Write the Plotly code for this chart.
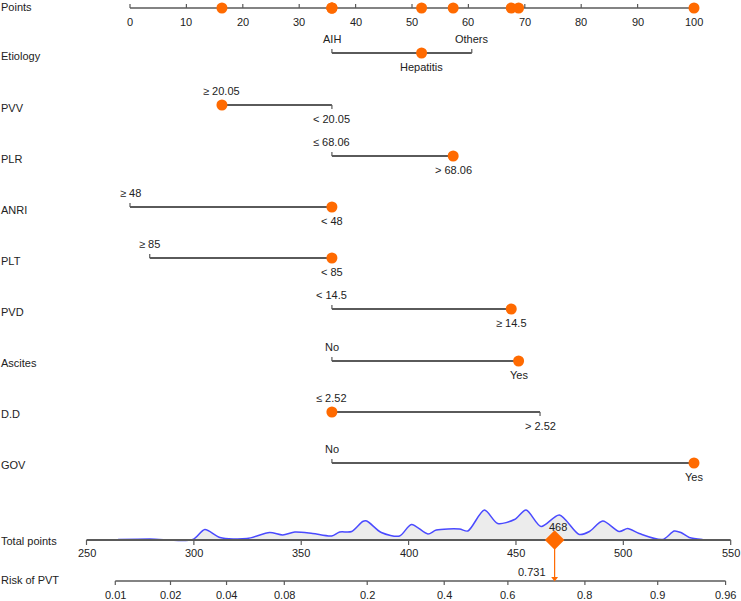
import math
import plotly.graph_objects as go

# ---------------- data ----------------
points_ticks = [0, 10, 20, 30, 40, 50, 60, 70, 80, 90, 100]
total_ticks = [250, 300, 350, 400, 450, 500, 550]
risk_ticks = [0.01, 0.02, 0.04, 0.08, 0.2, 0.4, 0.6, 0.8, 0.91, 0.96]
risk_tick_labels = ["0.01", "0.02", "0.04", "0.08", "0.2", "0.4", "0.6", "0.8", "0.9", "0.96"]

variables = ["Etiology", "PVV", "PLR", "ANRI", "PLT", "PVD", "Ascites", "D.D", "GOV"]
levels = [
    ["AIH", "Hepatitis", "Others"],
    ["≥ 20.05", "< 20.05"],
    ["≤ 68.06", "> 68.06"],
    ["≥ 48", "< 48"],
    ["≥ 85", "< 85"],
    ["< 14.5", "≥ 14.5"],
    ["No", "Yes"],
    ["≤ 2.52", "> 2.52"],
    ["No", "Yes"],
]
level_points = [
    [35.8, 51.7, 60.6],
    [16.3, 35.8],
    [35.8, 57.3],
    [0.0, 35.8],
    [3.5, 35.8],
    [35.8, 67.6],
    [35.8, 68.9],
    [35.8, 72.7],
    [35.8, 100.0],
]
selected_level = [1, 0, 1, 1, 1, 1, 1, 0, 1]

total_points_value = 468
risk_value = 0.731
lp_at_total = 1.0006     # linear predictor at total points value
lp_slope = 0.02735       # per total point

density_x = [264.7, 279.5, 299.5, 305.1, 312.1, 324.7, 335.3, 341.4, 347.0, 355.3,
             364.2, 367.9, 373.5, 378.6, 380.5, 387.3, 395.8, 401.3, 409.0, 412.9,
             423.7, 427.6, 435.3, 441.5, 449.3, 454.7, 461.7, 470.2, 479.5, 484.2,
             490.4, 498.1, 502.0, 507.4, 518.3, 523.7, 526.8, 530.7, 536.9]
density_y = [0.0, 0.5, 0.0, 10.0, 2.0, 1.0, 7.0, 4.5, 7.5, 6.0,
             3.5, 7.5, 8.0, 18.0, 18.5, 7.0, 3.5, 15.0, 5.5, 9.5,
             10.5, 8.5, 29.5, 16.0, 20.0, 29.5, 13.0, 24.5, 5.0, 8.0,
             18.5, 8.0, 11.0, 6.0, 0.0, 8.5, 7.0, 2.0, 0.0]

# ---------------- layout constants (pixels) ----------------
W, H = 741, 601
FONT = "Liberation Sans"
TXT = "#222222"
AXC = "#5a5a5a"
ORANGE = "#FF6A00"

points_y = 8
row_y = [53, 105, 156, 207, 258, 309, 361, 412, 463]
total_y = 540
risk_y = 581
side = [
    ["above", "below", "above"],
    ["above", "below"], ["above", "below"], ["above", "below"], ["above", "below"],
    ["above", "below"], ["above", "below"], ["above", "below"], ["above", "below"],
]

fig = go.Figure()
ann = []


def seg_trace(xs, ys, axis, color=AXC, width=1.5):
    fig.add_trace(go.Scatter(x=xs, y=ys, mode="lines", xaxis=axis, yaxis="y",
                             line=dict(color=color, width=width),
                             hoverinfo="skip", showlegend=False))


def label(text, x, y, xref, xanchor="center", size=11):
    ann.append(dict(text=text, x=x, y=y, xref=xref, yref="y", showarrow=False,
                    xanchor=xanchor, yanchor="middle",
                    font=dict(family=FONT, size=size, color=TXT)))


# Points axis
seg_trace([points_ticks[0], points_ticks[-1]], [points_y, points_y], "x")
xs, ys = [], []
for t in points_ticks:
    xs += [t, t, None]
    ys += [points_y, points_y - 4, None]
    label(str(t), t, points_y + 14, "x")
seg_trace(xs, ys, "x", width=1.2)

# variable rows
for i, var in enumerate(variables):
    y = row_y[i]
    pts = level_points[i]
    seg_trace([min(pts), max(pts)], [y, y], "x", width=1.8)
    txs, tys = [], []
    for j, lev in enumerate(levels[i]):
        if side[i][j] == "above":
            txs += [pts[j], pts[j], None]
            tys += [y, y - 4, None]
            label(lev, pts[j], y - 14, "x")
        else:
            txs += [pts[j], pts[j], None]
            tys += [y, y + 4, None]
            label(lev, pts[j], y + 14, "x")
    seg_trace(txs, tys, "x", width=1.2)

# row labels
row_labels = ["Points"] + variables + ["Total points", "Risk of PVT"]
row_label_y = [points_y - 1] + [y + 3 for y in row_y[:3]] + [y + 3 for y in row_y[3:6]] + \
              [y + 2 for y in row_y[6:]] + [total_y + 1, risk_y - 1]
for t, y in zip(row_labels, row_label_y):
    ann.append(dict(text=t, x=0, y=y, xref="paper", yref="y", showarrow=False,
                    xanchor="left", yanchor="middle", borderpad=0,
                    font=dict(family=FONT, size=11, color=TXT)))

# selected dots on rows and points axis
sel_x = [level_points[i][selected_level[i]] for i in range(len(variables))]
fig.add_trace(go.Scatter(x=sel_x, y=row_y, mode="markers", xaxis="x", yaxis="y",
                         marker=dict(color=ORANGE, size=11, line=dict(width=0)),
                         hoverinfo="skip", showlegend=False))
fig.add_trace(go.Scatter(x=sel_x, y=[points_y] * len(sel_x), mode="markers", xaxis="x", yaxis="y",
                         marker=dict(color=ORANGE, size=11, line=dict(width=0)),
                         hoverinfo="skip", showlegend=False))

# density
fig.add_trace(go.Scatter(x=density_x, y=[total_y] * len(density_x), mode="lines",
                         xaxis="x2", yaxis="y", line=dict(width=0, color="rgba(0,0,0,0)"),
                         hoverinfo="skip", showlegend=False))
fig.add_trace(go.Scatter(x=density_x, y=[total_y - 0.5 - d for d in density_y], mode="lines",
                         xaxis="x2", yaxis="y", line=dict(color="#4a4aff", width=1.5, shape="spline",
                                                          smoothing=0.8),
                         fill="tonexty", fillcolor="#ececec",
                         hoverinfo="skip", showlegend=False))

# Total points axis
seg_trace([total_ticks[0], total_ticks[-1]], [total_y, total_y], "x2", width=1.8)
xs, ys = [], []
for t in total_ticks:
    xs += [t, t, None]
    ys += [total_y, total_y + 5, None]
    label(str(t), t, total_y + 13, "x2")
seg_trace(xs, ys, "x2", width=1.2)

# Risk axis
def risk_to_points(p):
    lp = math.log(p / (1 - p))
    return total_points_value + (lp - lp_at_total) / lp_slope

risk_x = [risk_to_points(p) for p in risk_ticks]
seg_trace([risk_x[0], risk_x[-1]], [risk_y, risk_y], "x2", width=1.5)
xs, ys = [], []
for rx, lab in zip(risk_x, risk_tick_labels):
    xs += [rx, rx, None]
    ys += [risk_y, risk_y + 4, None]
    label(lab, rx, risk_y + 14, "x2")
seg_trace(xs, ys, "x2", width=1.2)

# patient's total + risk arrow
seg_trace([total_points_value, total_points_value], [total_y, risk_y - 3], "x2", color=ORANGE, width=1.2)
fig.add_trace(go.Scatter(x=[total_points_value], y=[risk_y - 2.5], mode="markers", xaxis="x2", yaxis="y",
                         marker=dict(symbol="triangle-down", color=ORANGE, size=6, line=dict(width=0)),
                         hoverinfo="skip", showlegend=False))
fig.add_trace(go.Scatter(x=[total_points_value], y=[total_y], mode="markers", xaxis="x2", yaxis="y",
                         marker=dict(symbol="diamond", color=ORANGE, size=15, line=dict(width=0)),
                         hoverinfo="skip", showlegend=False))
label(str(total_points_value), total_points_value + 1.5, total_y - 13, "x2")
label(str(risk_value), total_points_value - 3, risk_y - 9, "x2", xanchor="right")

# ---------------- axes mapping ----------------
pts_per_px = 100 / (694 - 130)
tot_per_px = 300 / (730.7 - 86.5)
fig.update_layout(
    width=W, height=H,
    margin=dict(l=0, r=0, t=0, b=0),
    paper_bgcolor="white", plot_bgcolor="white",
    xaxis=dict(range=[0 - 130 * pts_per_px, 100 + (W - 694) * pts_per_px], visible=False,
               fixedrange=True, domain=[0, 1]),
    xaxis2=dict(range=[250 - 86.5 * tot_per_px, 550 + (W - 730.7) * tot_per_px], visible=False,
                overlaying="x", anchor="y", fixedrange=True),
    yaxis=dict(range=[H, 0], visible=False, fixedrange=True, domain=[0, 1]),
    annotations=ann,
    showlegend=False,
)

fig.write_html("out.html", config={"displayModeBar": False},
               post_script="document.body.style.margin='0px';document.body.style.overflow='hidden';")
